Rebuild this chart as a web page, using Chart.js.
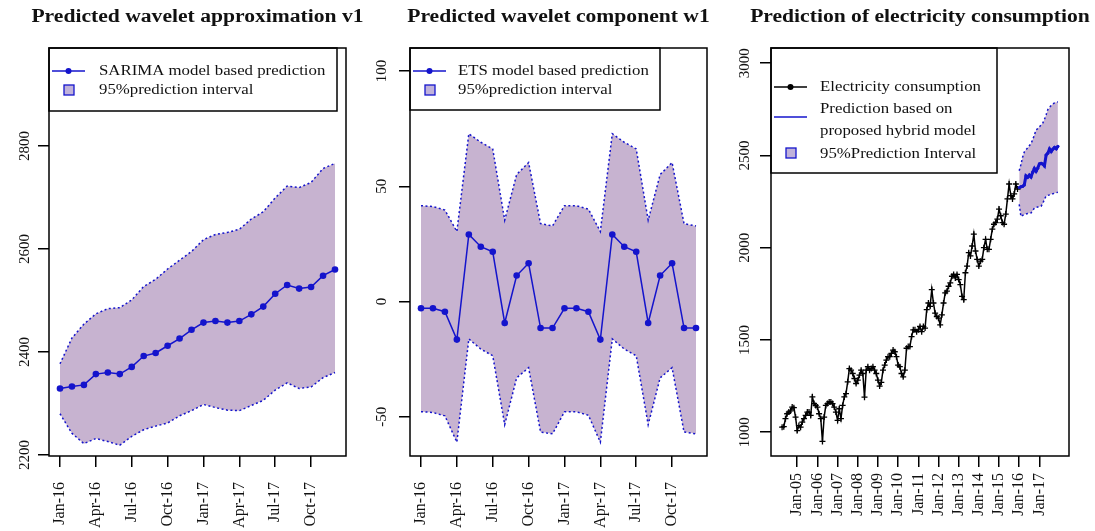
<!DOCTYPE html>
<html>
<head>
<meta charset="utf-8">
<script src="https://cdn.jsdelivr.net/npm/chart.js@4.4.1/dist/chart.umd.min.js"></script>
<style>
  html, body { margin: 0; padding: 0; background: #fff; }
  #wrap { position: relative; width: 1095px; height: 531px; overflow: hidden; }
  canvas { position: absolute; top: 0; }
</style>
</head>
<body>
<div id="wrap">
  <canvas id="c1" width="365" height="531" style="left:0"></canvas>
  <canvas id="c2" width="365" height="531" style="left:365px"></canvas>
  <canvas id="c3" width="365" height="531" style="left:730px"></canvas>
</div>
<script>
// --- forecast horizon, Jan-16 .. Dec-17 (month index 0..23)
const shortTickPos = [0, 3, 6, 9, 12, 15, 18, 21]
const shortTickLabels = ['Jan-16', 'Apr-16', 'Jul-16', 'Oct-16', 'Jan-17', 'Apr-17', 'Jul-17', 'Oct-17']

// panel 1 : wavelet approximation v1 (SARIMA)
const v1Pred  = [2329, 2333, 2336, 2357, 2360, 2357, 2371, 2392, 2398, 2412, 2426, 2443,
                 2457, 2460, 2457, 2460, 2473, 2488, 2513, 2530, 2523, 2526, 2548, 2560]
const v1Upper = [2377, 2427, 2454, 2474, 2484, 2486, 2501, 2527, 2541, 2561, 2578, 2595,
                 2618, 2628, 2632, 2638, 2658, 2672, 2699, 2722, 2719, 2729, 2756, 2766]
const v1Lower = [2280, 2242, 2222, 2232, 2226, 2219, 2236, 2249, 2256, 2262, 2276, 2286,
                 2298, 2292, 2287, 2286, 2296, 2306, 2326, 2340, 2329, 2332, 2350, 2360]
const v1Ticks = [2200, 2400, 2600, 2800]

// panel 2 : wavelet component w1 (ETS)
const w1Pred  = [-2.9, -2.9, -4.4, -16.5, 29.1, 23.8, 21.6, -9.3, 11.3, 16.6, -11.5, -11.5,
                 -2.9, -2.9, -4.4, -16.5, 29.1, 23.8, 21.6, -9.3, 11.3, 16.6, -11.5, -11.5]
const w1Upper = [41.6, 41.2, 39.7, 30.4, 72.8, 69.1, 66.2, 35.3, 55.1, 60.3, 33.8, 32.8,
                 41.6, 41.6, 40.1, 30.4, 72.8, 69.1, 66.2, 35.3, 55.1, 60.3, 33.8, 32.8]
const w1Lower = [-47.8, -48.1, -49.6, -61.0, -16.2, -20.6, -23.5, -53.4, -33.1, -28.7, -56.6, -57.4,
                 -47.8, -47.8, -49.3, -61.0, -16.2, -20.6, -23.5, -53.4, -33.1, -28.7, -56.6, -57.4]
const w1Ticks = [-50, 0, 50, 100]

// panel 3 : electricity consumption, Apr-04 .. Dec-15, month index relative to Jan-05
const obsStart = -9
const consumption = [
  1027, 1030, 1073, 1100, 1109, 1115, 1136, 1133, 1082,                   // 2004 Apr-Dec
  1009, 1036, 1027, 1055, 1073, 1091, 1109, 1109, 1091, 1191, 1155, 1145, // 2005
  1136, 1100, 1073, 950, 1082, 1145, 1155, 1164, 1164, 1155, 1136, 1109,  // 2006
  1064, 1127, 1073, 1145, 1191, 1209, 1273, 1345, 1336, 1318, 1291, 1264, // 2007
  1282, 1309, 1336, 1318, 1190, 1336, 1355, 1336, 1345, 1355, 1336, 1318, // 2008
  1282, 1250, 1270, 1336, 1364, 1391, 1409, 1409, 1427, 1445, 1436, 1409, // 2009
  1364, 1355, 1318, 1300, 1336, 1455, 1464, 1464, 1518, 1555, 1555, 1545, // 2010
  1555, 1573, 1545, 1573, 1564, 1664, 1700, 1682, 1773, 1700, 1645, 1627, // 2011
  1618, 1582, 1636, 1700, 1755, 1764, 1791, 1809, 1845, 1855, 1836, 1855, // 2012
  1827, 1800, 1736, 1718, 1864, 1900, 1973, 1955, 2009, 2073, 1982, 1936, // 2013
  1900, 1927, 1936, 2000, 2045, 1991, 1991, 2045, 2100, 2127, 2136, 2155, // 2014
  2209, 2173, 2136, 2127, 2182, 2264, 2345, 2282, 2264, 2291, 2345, 2318  // 2015
]
const predStart = 132 // Jan-16
const hybridPred  = [2326, 2330, 2332, 2340, 2389, 2381, 2393, 2383, 2409, 2429, 2414, 2431,
                     2454, 2457, 2453, 2443, 2502, 2512, 2535, 2521, 2534, 2543, 2536, 2549]
const hybridUpper = [2417, 2450, 2490, 2518, 2530, 2540, 2552, 2564, 2585, 2610, 2638, 2645,
                     2655, 2665, 2675, 2695, 2720, 2748, 2760, 2770, 2778, 2785, 2788, 2790]
const hybridLower = [2235, 2169, 2175, 2180, 2182, 2185, 2186, 2188, 2200, 2215, 2218, 2220,
                     2222, 2224, 2240, 2262, 2280, 2284, 2286, 2289, 2292, 2295, 2298, 2300]
const longTickPos = [0, 12, 24, 36, 48, 60, 72, 84, 96, 108, 120, 132, 144]
const longTickLabels = ['Jan-05', 'Jan-06', 'Jan-07', 'Jan-08', 'Jan-09', 'Jan-10', 'Jan-11',
                        'Jan-12', 'Jan-13', 'Jan-14', 'Jan-15', 'Jan-16', 'Jan-17']
const elecTicks = [1000, 1500, 2000, 2500, 3000]

// --- look
const SERIF = '"Liberation Serif", "DejaVu Serif", serif'
const BLUE = '#1414cc'
const BAND = 'rgb(199,179,208)'
const KEY_FILL = 'rgb(192,178,218)'
const SX = 1.2 // the picture is stretched sideways

const pts = (arr, start = 0) => arr.map((y, i) => ({ x: start + i, y }))

// title, legend box and R-like frame
const decor = {
  id: 'decor',
  afterDraw(chart, args, o) {
    const { ctx, chartArea: a } = chart
    ctx.save()
    // legend
    const lg = o.legend
    const L = a.left, T = a.top
    ctx.fillStyle = '#fff'
    ctx.fillRect(L, T, lg.w, lg.h)
    ctx.strokeStyle = '#000'
    ctx.lineWidth = 1.5
    ctx.strokeRect(L, T, lg.w, lg.h)
    lg.items.forEach(it => {
      if (it.sym === 'line' || it.sym === 'linePoint') {
        ctx.strokeStyle = it.color
        ctx.lineWidth = 1.5
        ctx.beginPath()
        ctx.moveTo(L + 3, T + it.sy)
        ctx.lineTo(L + 36, T + it.sy)
        ctx.stroke()
        if (it.sym === 'linePoint') {
          ctx.fillStyle = it.color
          ctx.beginPath()
          ctx.arc(L + 19.5, T + it.sy, 3, 0, Math.PI * 2)
          ctx.fill()
        }
      } else if (it.sym === 'square') {
        ctx.fillStyle = KEY_FILL
        ctx.fillRect(L + 15, T + it.sy - 5, 10, 10)
        ctx.strokeStyle = BLUE
        ctx.lineWidth = 1.3
        ctx.strokeRect(L + 15, T + it.sy - 5, 10, 10)
      }
    })
    ctx.fillStyle = '#111'
    ctx.font = '14px ' + SERIF
    ctx.textBaseline = 'middle'
    ctx.textAlign = 'left'
    lg.texts.forEach(t => {
      ctx.save()
      ctx.translate(L + lg.tx, T + t.y)
      ctx.scale(SX, 1)
      ctx.fillText(t.text, 0, 0)
      ctx.restore()
    })
    // frame
    ctx.strokeStyle = '#000'
    ctx.lineWidth = 1.5
    ctx.strokeRect(a.left, a.top, a.right - a.left, a.bottom - a.top)
    // title
    ctx.fillStyle = '#111'
    ctx.font = 'bold 18px ' + SERIF
    ctx.textAlign = 'center'
    ctx.translate((a.left + a.right) / 2, 17)
    ctx.scale(SX, 1)
    ctx.fillText(o.title, 0, 0)
    ctx.restore()
  }
}

function axisX(min, max, pos, labels, pad) {
  return {
    type: 'linear', min, max,
    afterBuildTicks: s => { s.ticks = pos.map(v => ({ value: v })) },
    afterFit: s => { s.height = 75 },
    ticks: {
      autoSkip: false, minRotation: 90, maxRotation: 90, padding: pad,
      color: '#111', font: { family: SERIF, size: 16 },
      callback: (v, i) => labels[i]
    },
    grid: { drawOnChartArea: false, drawTicks: true, tickLength: 11, color: '#000', lineWidth: 1.5 },
    border: { display: false }
  }
}

function axisY(min, max, values, width, pad) {
  return {
    type: 'linear', min, max,
    afterBuildTicks: s => { s.ticks = values.map(v => ({ value: v })) },
    afterFit: s => { s.width = width },
    ticks: {
      minRotation: 90, crossAlign: 'center', padding: pad,
      color: '#111', font: { family: SERIF, size: 15 },
      callback: v => String(v)
    },
    grid: { drawOnChartArea: false, drawTicks: true, tickLength: 11, color: '#000', lineWidth: 1.5 },
    border: { display: false }
  }
}

function bandSets(pred, upper, lower, start) {
  return [
    { data: pts(pred, start), borderColor: BLUE, borderWidth: 1.5, pointRadius: 3.3,
      pointBackgroundColor: BLUE, pointBorderWidth: 0, fill: false },
    { data: pts(upper, start), borderColor: BLUE, borderWidth: 1.5, borderDash: [2, 2.5],
      pointRadius: 0, fill: '+1', backgroundColor: BAND },
    { data: pts(lower, start), borderColor: BLUE, borderWidth: 1.5, borderDash: [2, 2.5],
      pointRadius: 0, fill: false }
  ]
}

function makeChart(id, datasets, scales, padRight, decorOpts) {
  return new Chart(document.getElementById(id), {
    type: 'line',
    data: { datasets },
    options: {
      responsive: false,
      animation: false,
      events: [],
      layout: { padding: { top: 48, right: padRight, left: 0, bottom: 0 } },
      elements: { line: { tension: 0 } },
      scales,
      plugins: {
        legend: { display: false },
        tooltip: { enabled: false },
        filler: { drawTime: 'beforeDatasetsDraw' },
        decor: decorOpts
      }
    },
    plugins: [decor]
  })
}

makeChart('c1', bandSets(v1Pred, v1Upper, v1Lower, 0), {
  x: axisX(-0.92, 23.92, shortTickPos, shortTickLabels, 15),
  y: axisY(2198, 2990, v1Ticks, 49, -2)
}, 19, {
  title: 'Predicted wavelet approximation v1',
  legend: {
    w: 288, h: 63, tx: 50,
    items: [{ sym: 'linePoint', color: BLUE, sy: 23 }, { sym: 'square', sy: 42 }],
    texts: [{ text: 'SARIMA model based prediction', y: 23 }, { text: '95%prediction interval', y: 42 }]
  }
})

makeChart('c2', bandSets(w1Pred, w1Upper, w1Lower, 0), {
  x: axisX(-0.92, 23.92, shortTickPos, shortTickLabels, 15),
  y: axisY(-67, 110, w1Ticks, 45, 6)
}, 23, {
  title: 'Predicted wavelet component w1',
  legend: {
    w: 250, h: 62, tx: 48,
    items: [{ sym: 'linePoint', color: BLUE, sy: 23 }, { sym: 'square', sy: 42 }],
    texts: [{ text: 'ETS model based prediction', y: 23 }, { text: '95%prediction interval', y: 42 }]
  }
})

const elecSets = bandSets(hybridPred, hybridUpper, hybridLower, predStart)
elecSets[0].borderWidth = 3
elecSets[0].pointRadius = 1.6
elecSets.push({
  data: pts(consumption, obsStart), borderColor: '#000', borderWidth: 1.5,
  pointStyle: 'cross', pointRadius: 3, pointBorderColor: '#000', pointBorderWidth: 1.3, fill: false
})

makeChart('c3', elecSets, {
  x: axisX(-15.6, 161.6, longTickPos, longTickLabels, 6),
  y: axisY(871, 3082, elecTicks, 41, 0)
}, 26, {
  title: 'Prediction of electricity consumption',
  legend: {
    w: 226, h: 125, tx: 49,
    items: [{ sym: 'linePoint', color: '#000', sy: 39 }, { sym: 'line', color: BLUE, sy: 69 },
            { sym: 'square', sy: 105 }],
    texts: [{ text: 'Electricity consumption', y: 39 }, { text: 'Prediction based on', y: 61 },
            { text: 'proposed hybrid model', y: 83 }, { text: '95%Prediction Interval', y: 106 }]
  }
})
</script>
</body>
</html>
